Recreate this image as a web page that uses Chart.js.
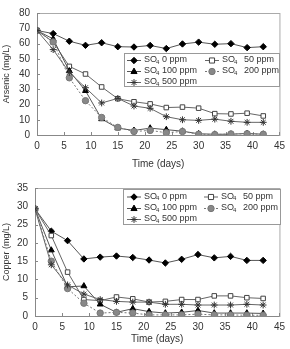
<!DOCTYPE html>
<html>
<head>
<meta charset="utf-8">
<script src="https://cdn.jsdelivr.net/npm/chart.js@4.4.1/dist/chart.umd.min.js"></script>
<style>
  html, body { margin: 0; padding: 0; background: #fff; }
  .box { position: absolute; left: 0; width: 290px; }
</style>
</head>
<body>
<div class="box" style="top:0;height:175px"><canvas id="cAs" width="290" height="175"></canvas></div>
<div class="box" style="top:175px;height:175px"><canvas id="cCu" width="290" height="175"></canvas></div>
<script>
// ---- DATA ----
const days = [0, 3, 6, 9, 12, 15, 18, 21, 24, 27, 30, 33, 36, 39, 42];
const doses = ["0", "50", "100", "200", "500"];

const arsenic0   = [68.5, 66.5, 61.5, 58.8, 60.5, 57.9, 57.7, 58.7, 56.7, 59.7, 60.9, 59.5, 59.9, 57.3, 57.9];
const arsenic50  = [68.5, 61, 45, 40, 31.5, 23.8, 21.8, 20.4, 18, 18.3, 17.6, 14, 13.8, 14.3, 12.5];
const arsenic100 = [68.5, 63, 42, 29, 10.5, 4.5, 3, 4.5, 3.5, 2.5, 0.8, 0.5, 0.5, 1, 0.5];
const arsenic200 = [68.5, 61, 37.5, 22.5, 11.5, 5, 2.3, 3, 1.5, 2.3, 0.5, 0.3, 0.7, 0.8, 0.5];
const arsenic500 = [68.5, 56, 41, 31, 21, 24, 19, 17.5, 12, 10, 9.6, 10.4, 9, 8.3, 8.3];

const copper0   = [29.3, 23.2, 20.6, 15.6, 16.1, 16.4, 16, 15.3, 14.5, 15.5, 16.8, 15.9, 16.3, 15.2, 15.2];
const copper50  = [29.3, 22, 12, 4.5, 4.2, 5.2, 4.7, 3.8, 4, 4.5, 4.5, 5.5, 5.5, 5, 4.8];
const copper100 = [29.3, 18, 8, 8.2, 3.2, 1, 2, 1.2, 0.8, 1, 1.5, 0.8, 0.8, 0.8, 0.7];
const copper200 = [29.3, 15, 7.5, 3.5, 0.8, 1, 0.8, 0.3, 0.3, 0.3, 0.5, 0.3, 0.3, 0.2, 0.2];
const copper500 = [29.3, 14, 8.5, 6, 4.5, 4, 3.8, 3.8, 3.2, 3.2, 3, 3, 3, 3.2, 3];

// ---- STYLES ----
const styles = [
  { pointStyle: "rectRot",  radius: 3.2, fill: "#000", stroke: "#000", line: "#555", dash: [] },
  { pointStyle: "rect",     radius: 3.2, fill: "#fff", stroke: "#444", line: "#666", dash: [] },
  { pointStyle: "triangle", radius: 3.4, fill: "#000", stroke: "#000", line: "#555", dash: [] },
  { pointStyle: "circle",   radius: 3.2, fill: "#888", stroke: "#777", line: "#777", dash: [2, 2] },
  { pointStyle: "star",     radius: 3.4, fill: "#333", stroke: "#333", line: "#666", dash: [] }
];

function makeSets(series) {
  return series.map((vals, i) => ({
    label: "SO4 " + doses[i] + " ppm",
    data: vals.map((v, k) => ({ x: days[k], y: v })),
    borderColor: styles[i].line,
    borderWidth: 1,
    borderDash: styles[i].dash,
    pointStyle: styles[i].pointStyle,
    pointRadius: styles[i].radius,
    pointBackgroundColor: styles[i].fill,
    pointBorderColor: styles[i].stroke,
    pointBorderWidth: 1,
    tension: 0
  })).reverse();
}

function drawMarker(ctx, st, x, y) {
  ctx.save();
  ctx.fillStyle = st.fill;
  ctx.strokeStyle = st.stroke;
  ctx.lineWidth = 1;
  ctx.setLineDash([]);
  const r = st.radius;
  ctx.beginPath();
  if (st.pointStyle === "rectRot") {
    ctx.moveTo(x, y - r); ctx.lineTo(x + r, y); ctx.lineTo(x, y + r); ctx.lineTo(x - r, y); ctx.closePath();
    ctx.fill(); ctx.stroke();
  } else if (st.pointStyle === "rect") {
    ctx.rect(x - r * 0.8, y - r * 0.8, r * 1.6, r * 1.6); ctx.fill(); ctx.stroke();
  } else if (st.pointStyle === "triangle") {
    ctx.moveTo(x, y - r); ctx.lineTo(x + r * 0.9, y + r * 0.6); ctx.lineTo(x - r * 0.9, y + r * 0.6); ctx.closePath();
    ctx.fill(); ctx.stroke();
  } else if (st.pointStyle === "circle") {
    ctx.arc(x, y, r, 0, Math.PI * 2); ctx.fill(); ctx.stroke();
  } else {
    for (let a = 0; a < 4; a++) {
      const t = a * Math.PI / 4;
      ctx.moveTo(x - r * Math.cos(t), y - r * Math.sin(t));
      ctx.lineTo(x + r * Math.cos(t), y + r * Math.sin(t));
    }
    ctx.stroke();
  }
  ctx.restore();
}

// frame, inside ticks and legend box
const framePlugin = {
  id: "frame",
  beforeDatasetsDraw(chart) {
    const { ctx, chartArea: a, scales } = chart;
    ctx.save();
    ctx.strokeStyle = "#aaa";
    ctx.lineWidth = 1;
    ctx.strokeRect(a.left + 0.5, a.top + 0.5, a.right - a.left, a.bottom - a.top);
    ctx.strokeStyle = "#888";
    ctx.beginPath();
    ctx.moveTo(a.left + 0.5, a.top); ctx.lineTo(a.left + 0.5, a.bottom + 0.5); ctx.lineTo(a.right, a.bottom + 0.5);
    scales.x.ticks.forEach(t => {
      const px = Math.round(scales.x.getPixelForValue(t.value)) + 0.5;
      ctx.moveTo(px, a.bottom); ctx.lineTo(px, a.bottom - 3);
    });
    scales.y.ticks.forEach(t => {
      const py = Math.round(scales.y.getPixelForValue(t.value)) + 0.5;
      ctx.moveTo(a.left, py); ctx.lineTo(a.left + 3, py);
    });
    ctx.stroke();
    ctx.restore();
  },
  afterDraw(chart, args, opts) {
    const { ctx } = chart;
    const L = opts.box;
    ctx.save();
    ctx.fillStyle = "#fff";
    ctx.fillRect(L.x, L.y, L.w, L.h);
    ctx.strokeStyle = "#999";
    ctx.lineWidth = 1;
    ctx.strokeRect(L.x + 0.5, L.y + 0.5, L.w, L.h);
    ctx.textBaseline = "middle";
    doses.forEach((d, i) => {
      const col = i === 4 ? 0 : i % 2;
      const row = Math.floor(i / 2);
      const sx = L.cols[col];
      const sy = L.rows[row];
      const st = styles[i];
      ctx.strokeStyle = st.line;
      ctx.setLineDash(st.dash);
      ctx.beginPath();
      ctx.moveTo(sx, sy + 0.5); ctx.lineTo(sx + 14, sy + 0.5);
      ctx.stroke();
      ctx.setLineDash([]);
      drawMarker(ctx, st, sx + 7, sy + 0.5);
      ctx.fillStyle = "#333";
      ctx.font = "9px 'Liberation Sans', Arial, sans-serif";
      ctx.fillText("SO", sx + 17, sy);
      ctx.font = "6px 'Liberation Sans', Arial, sans-serif";
      ctx.fillText("4", sx + 29, sy + 2);
      ctx.font = "9px 'Liberation Sans', Arial, sans-serif";
      ctx.fillText(d + " ppm", sx + (col === 0 ? 35 : 39), sy);
    });
    ctx.restore();
  }
};

function makeChart(id, series, yTitle, yMax, yStep, geo) {
  return new Chart(document.getElementById(id), {
    type: "line",
    data: { datasets: makeSets(series) },
    plugins: [framePlugin],
    options: {
      responsive: false,
      animation: false,
      layout: { padding: { left: 0, top: geo.top, right: geo.right, bottom: 0 } },
      plugins: {
        legend: { display: false },
        tooltip: { enabled: false },
        frame: { box: geo.legend }
      },
      scales: {
        x: {
          type: "linear", min: 0, max: 45,
          ticks: { stepSize: 5, color: "#333", padding: 5, font: { size: 10, family: "'Liberation Sans', Arial" } },
          grid: { display: false, drawTicks: false },
          border: { display: false },
          title: { display: true, text: "Time (days)", color: "#333", padding: { top: 0, bottom: geo.titleBottom }, font: { size: 10, family: "'Liberation Sans', Arial" } },
          afterFit: s => { s.height = geo.xh; }
        },
        y: {
          min: 0, max: yMax,
          ticks: { stepSize: yStep, color: "#333", padding: 7, font: { size: 10, family: "'Liberation Sans', Arial" } },
          grid: { display: false, drawTicks: false },
          border: { display: false },
          title: { display: true, text: yTitle, color: "#333", padding: { top: 1, bottom: 0 }, font: { size: 9, family: "'Liberation Sans', Arial" } },
          afterFit: s => { s.width = geo.yw; }
        }
      }
    }
  });
}

makeChart("cAs", [arsenic0, arsenic50, arsenic100, arsenic200, arsenic500], "Arsenic (mg/L)", 80, 10, {
  top: 8, right: 8, yw: 37, xh: 40, titleBottom: 5,
  legend: { x: 124, y: 53, w: 155, h: 33, cols: [127, 205], rows: [60, 71, 82] }
});

makeChart("cCu", [copper0, copper50, copper100, copper200, copper500], "Copper (mg/L)", 35, 5, {
  top: 7, right: 7, yw: 35, xh: 34, titleBottom: 5,
  legend: { x: 123, y: 14, w: 157, h: 35, cols: [127, 204], rows: [21.5, 33, 44] }
});
</script>
</body>
</html>
